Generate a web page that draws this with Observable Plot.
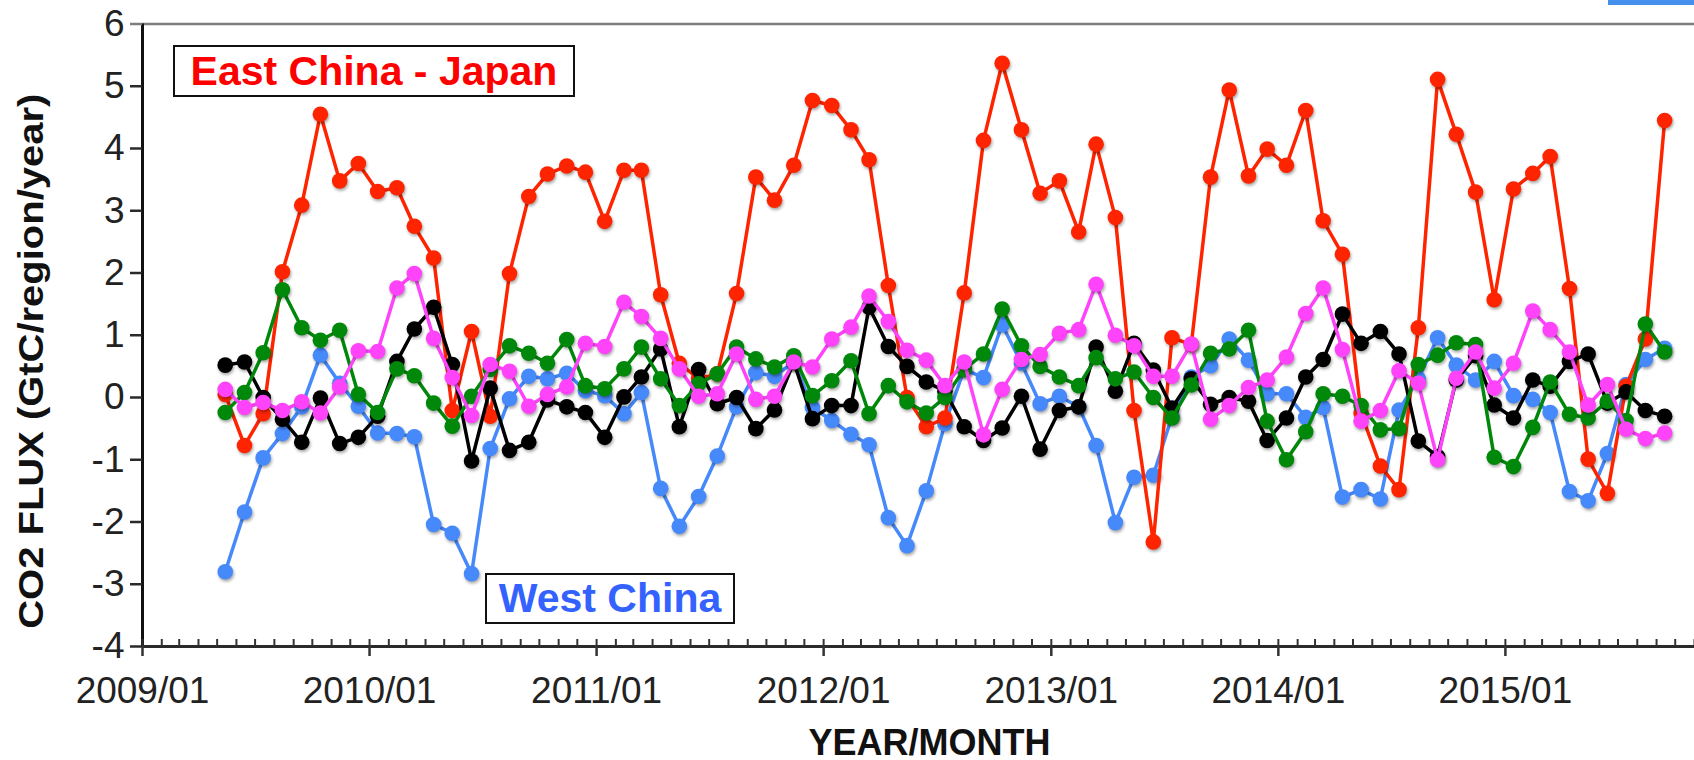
<!DOCTYPE html>
<html>
<head>
<meta charset="utf-8">
<script src="https://cdn.jsdelivr.net/npm/d3@7"></script>
<script src="https://cdn.jsdelivr.net/npm/@observablehq/plot@0.6"></script>
<style>
  html, body { margin: 0; padding: 0; background: #fff; overflow: hidden; }
  #wrap { position: relative; width: 1694px; height: 760px; font-family: "Liberation Sans", Arial, sans-serif; }
  .note {
    position: absolute; box-sizing: border-box; border: 2px solid #111; background: #fff;
    font-weight: bold; font-size: 41px; display: flex; align-items: center; justify-content: center;
    white-space: nowrap; line-height: 1;
  }
  #corner { position: absolute; top: 0; right: 0; width: 86px; height: 5px; background: #4590ec; }
</style>
</head>
<body>
<div id="wrap"></div>
<script>
// Monthly CO2 flux per region, May 2009 – Sep 2015 (GtC/region/year)
const monthStart = new Date(Date.UTC(2009, 4, 1));
const monthStop = new Date(Date.UTC(2015, 9, 1));

const eastChinaJapan = [
  0.05, -0.77, -0.26, 2.02, 3.09, 4.55, 3.48, 3.76, 3.31, 3.37,
  2.75, 2.24, -0.21, 1.06, -0.30, 1.99, 3.23, 3.59, 3.72, 3.62,
  2.83, 3.65, 3.65, 1.65, 0.55, 0.30, 0.38, 1.67, 3.54, 3.17,
  3.73, 4.77, 4.69, 4.30, 3.82, 1.80, 0.00, -0.47, -0.33, 1.68,
  4.13, 5.37, 4.30, 3.28, 3.48, 2.66, 4.07, 2.89, -0.21, -2.32,
  0.96, 0.85, 3.54, 4.94, 3.56, 3.99, 3.73, 4.61, 2.84, 2.30,
  -0.25, -1.10, -1.48, 1.12, 5.11, 4.23, 3.30, 1.57, 3.35, 3.60,
  3.87, 1.75, -0.99, -1.54, 0.18, 0.94, 4.45
];

const westChina = [
  -2.80, -1.84, -0.97, -0.58, -0.15, 0.68, 0.23, -0.14, -0.57, -0.58,
  -0.63, -2.04, -2.18, -2.83, -0.82, -0.02, 0.34, 0.30, 0.39, 0.11,
  0.03, -0.26, 0.08, -1.46, -2.07, -1.59, -0.94, -0.15, 0.40, 0.34,
  0.57, -0.16, -0.37, -0.59, -0.76, -1.93, -2.38, -1.50, -0.42, 0.45,
  0.32, 1.17, 0.55, -0.10, 0.02, -0.15, -0.77, -2.01, -1.28, -1.25,
  -0.30, 0.33, 0.51, 0.94, 0.60, 0.06, 0.06, -0.32, -0.16, -1.60,
  -1.48, -1.63, -0.20, 0.30, 0.96, 0.52, 0.28, 0.58, 0.03, -0.03,
  -0.24, -1.51, -1.66, -0.90, 0.21, 0.61, 0.79
];

const regionBlack = [
  0.52, 0.57, 0.00, -0.35, -0.72, -0.01, -0.74, -0.64, -0.30, 0.58,
  1.10, 1.45, 0.53, -1.02, 0.15, -0.85, -0.72, -0.04, -0.15, -0.24,
  -0.64, 0.01, 0.33, 0.78, -0.47, 0.45, -0.10, 0.00, -0.50, -0.20,
  0.57, -0.34, -0.13, -0.13, 1.45, 0.82, 0.50, 0.25, 0.10, -0.47,
  -0.69, -0.49, 0.02, -0.83, -0.21, -0.15, 0.81, 0.10, 0.87, 0.44,
  -0.17, 0.30, -0.11, 0.00, -0.06, -0.69, -0.33, 0.33, 0.61, 1.34,
  0.87, 1.06, 0.70, -0.70, -0.95, 0.28, 0.67, -0.12, -0.33, 0.28,
  0.18, 0.58, 0.70, -0.09, 0.09, -0.21, -0.30
];

const regionGreen = [
  -0.24, 0.08, 0.72, 1.73, 1.12, 0.92, 1.08, 0.05, -0.24, 0.46,
  0.35, -0.09, -0.46, 0.02, 0.45, 0.83, 0.71, 0.55, 0.93, 0.19,
  0.14, 0.46, 0.81, 0.30, -0.13, 0.22, 0.38, 0.81, 0.62, 0.49,
  0.67, 0.03, 0.27, 0.59, -0.26, 0.19, -0.07, -0.25, 0.00, 0.45,
  0.70, 1.42, 0.83, 0.50, 0.33, 0.19, 0.64, 0.30, 0.41, 0.00,
  -0.33, 0.20, 0.71, 0.78, 1.08, -0.38, -1.00, -0.55, 0.06, 0.02,
  -0.13, -0.52, -0.50, 0.53, 0.68, 0.88, 0.85, -0.96, -1.11, -0.48,
  0.25, -0.27, -0.33, -0.06, -0.37, 1.18, 0.73
];

const regionMagenta = [
  0.13, -0.16, -0.08, -0.21, -0.07, -0.25, 0.17, 0.75, 0.74, 1.76,
  1.99, 0.95, 0.32, -0.29, 0.53, 0.42, -0.14, 0.05, 0.17, 0.87,
  0.82, 1.53, 1.30, 0.95, 0.46, 0.02, 0.06, 0.70, -0.03, 0.02,
  0.57, 0.49, 0.94, 1.13, 1.63, 1.22, 0.76, 0.60, 0.19, 0.57,
  -0.60, 0.13, 0.61, 0.69, 1.03, 1.09, 1.82, 1.00, 0.83, 0.34,
  0.34, 0.86, -0.35, -0.13, 0.16, 0.28, 0.65, 1.35, 1.76, 0.77,
  -0.38, -0.21, 0.43, 0.23, -1.00, 0.31, 0.73, 0.15, 0.55, 1.39,
  1.09, 0.73, -0.12, 0.21, -0.51, -0.66, -0.57
];

const yTicks = [-4, -3, -2, -1, 0, 1, 2, 3, 4, 5, 6];
const yearTicks = d3.utcYear.range(new Date(Date.UTC(2009, 0, 1)), new Date(Date.UTC(2015, 1, 1)));
const monthTicks = d3.utcMonth.range(new Date(Date.UTC(2009, 0, 1)), new Date(Date.UTC(2015, 11, 1)));
const xDomain = [new Date(Date.UTC(2009, 0, 1)), new Date(Date.UTC(2015, 10, 1))];
const yTitle = "CO2 FLUX (GtC/region/year)";
const xTitle = "YEAR/MONTH";

// each monthly value is placed near the middle of its month
const months = d3.utcMonth.range(monthStart, monthStop).map(d => d3.utcDay.offset(d, 13));

// drawing order: bottom to top
const series = [
  {key: "West China", values: westChina, color: "#4689fb"},
  {key: "East China - Japan", values: eastChinaJapan, color: "#ff2400"},
  {key: "black", values: regionBlack, color: "#000000"},
  {key: "green", values: regionGreen, color: "#00880a"},
  {key: "magenta", values: regionMagenta, color: "#ff43fb"}
];

const seriesMarks = series.flatMap(s => {
  const rows = s.values.map((v, i) => ({date: months[i], flux: v}));
  return [
    Plot.line(rows, {x: "date", y: "flux", stroke: s.color, strokeWidth: 3.5}),
    Plot.dot(rows, {x: "date", y: "flux", fill: s.color, r: 7.8, stroke: "none"})
  ];
});

const chart = Plot.plot({
  width: 1694,
  height: 760,
  marginLeft: 142,
  marginRight: 0,
  marginTop: 23.5,
  marginBottom: 114,
  style: {fontFamily: "'Liberation Sans', Arial, sans-serif", background: "#fff", overflow: "visible"},
  x: {type: "utc", domain: xDomain},
  y: {domain: [-4, 6]},
  marks: [
    Plot.ruleY([6], {stroke: "#7d7d7d", strokeWidth: 2.5}),
    ...seriesMarks,
    Plot.ruleX([xDomain[0]], {stroke: "#111", strokeWidth: 3}),
    Plot.ruleY([-4], {stroke: "#2a2a2a", strokeWidth: 3}),
    // monthly minor ticks above the axis line
    Plot.axisX({ticks: monthTicks, tickSize: 7, dy: -7, stroke: "#333", strokeWidth: 2, fill: "none", label: null}),
    // yearly ticks and labels
    Plot.axisX({
      ticks: yearTicks, tickSize: 10, tickPadding: 20, tickFormat: d3.utcFormat("%Y/%m"),
      fontSize: 37, stroke: "#333", strokeWidth: 2.5, fill: "#222", label: null
    }),
    Plot.axisY({
      ticks: yTicks.filter(t => t !== 6), tickSize: 12, tickPadding: 6, tickFormat: d => String(d),
      fontSize: 37, stroke: "#2a2a2a", strokeWidth: 2.5, fill: "#222", label: null
    }),
    Plot.axisY({
      ticks: [6], tickSize: 12, tickPadding: 6, tickFormat: d => String(d),
      fontSize: 37, stroke: "#7d7d7d", strokeWidth: 2.5, fill: "#222", label: null
    }),
    Plot.text([yTitle], {
      frameAnchor: "left", textAnchor: "middle", rotate: -90, dx: -111, dy: 26,
      fontSize: 35, fontWeight: "bold", fill: "#111"
    }),
    Plot.text([xTitle], {
      frameAnchor: "bottom", dx: 11, dy: 108,
      fontSize: 36, fontWeight: "bold", fill: "#111"
    })
  ]
});

// soft shadow under the markers
d3.select(chart).selectAll('g[aria-label="dot"]')
  .style("filter", "drop-shadow(1px 2px 1.5px rgba(0,0,0,0.35))");

// the vertical title is set in a slightly wider face
d3.select(chart).selectAll("text")
  .filter(function () { return this.textContent === yTitle; })
  .attr("textLength", 535)
  .attr("lengthAdjust", "spacingAndGlyphs");

const wrap = document.getElementById("wrap");
wrap.appendChild(chart);

const east = document.createElement("div");
east.className = "note";
east.textContent = "East China - Japan";
Object.assign(east.style, {left: "173px", top: "45px", width: "402px", height: "52px", color: "#ff0000"});
wrap.appendChild(east);

const west = document.createElement("div");
west.className = "note";
west.textContent = "West China";
Object.assign(west.style, {left: "485px", top: "573px", width: "250px", height: "51px", color: "#3462ff"});
wrap.appendChild(west);

const corner = document.createElement("div");
corner.id = "corner";
wrap.appendChild(corner);
</script>
</body>
</html>
